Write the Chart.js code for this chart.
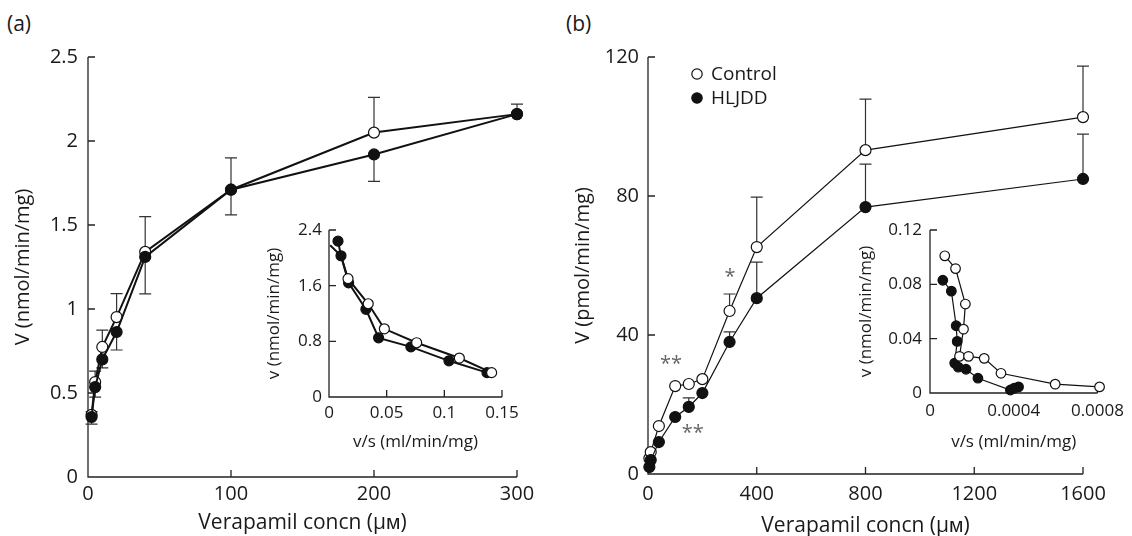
<!DOCTYPE html>
<html>
<head>
<meta charset="utf-8">
<script src="https://cdn.jsdelivr.net/npm/chart.js@4/dist/chart.umd.min.js"></script>
<style>
body { margin: 0; background: #fff; width: 1132px; height: 536px; overflow: hidden; position: relative; }
canvas { position: absolute; }
.lab { position: absolute; font: 21px 'Open Sans'; line-height: 21px; color: #1a1a1a; }
</style>
</head>
<body>
<div class="lab" style="left:7px;top:13px">(a)</div>
<div class="lab" style="left:566px;top:13px">(b)</div>
<canvas id="mainA" width="560" height="536" style="left:0;top:0"></canvas>
<canvas id="insetA" width="300" height="260" style="left:240px;top:200px"></canvas>
<canvas id="mainB" width="572" height="540" style="left:560px;top:0"></canvas>
<canvas id="insetB" width="292" height="260" style="left:840px;top:200px"></canvas>
<script>
// (a) main: V vs verapamil concn (uM)
var concA = [2.5, 5, 10, 20, 40, 100, 200, 300];
var ctrlA = [0.37, 0.565, 0.774, 0.952, 1.34, 1.71, 2.05, 2.16];
var hljddA = [0.357, 0.535, 0.70, 0.863, 1.31, 1.71, 1.92, 2.16];
var ctrlErrA = [0.02, 0.065, 0.10, 0.14, 0.21, 0.19, 0.21, 0.06];
var hljddErrA = [-0.042, -0.06, -0.05, -0.107, -0.22, -0.15, -0.16, 0];
var xTicksA = [0, 100, 200, 300];
var yTicksA = [0, 0.5, 1, 1.5, 2, 2.5];

// (a) inset: Eadie-Hofstee
var ctrlVsA = [0.001, 0.0104, 0.0165, 0.034, 0.048, 0.076, 0.113, 0.141];
var ctrlVA = [2.18, 2.03, 1.70, 1.34, 0.98, 0.78, 0.56, 0.35];
var hljddVsA = [0.0078, 0.0104, 0.017, 0.032, 0.043, 0.071, 0.104, 0.137];
var hljddVA = [2.24, 2.03, 1.64, 1.26, 0.85, 0.72, 0.52, 0.35];
var xTicksIA = [0, 0.05, 0.1, 0.15];
var yTicksIA = [0, 0.8, 1.6, 2.4];

// (b) main
var concB = [5, 10, 40, 100, 150, 200, 300, 400, 800, 1600];
var ctrlB = [4.5, 6.3, 13.8, 25.3, 25.9, 27.3, 46.9, 65.3, 93.2, 102.7];
var hljddB = [2.0, 4.0, 9.2, 16.4, 19.3, 23.3, 38.0, 50.6, 76.8, 84.9];
var ctrlErrB = [0, 0, 0, 0, 0, 0, 4.9, 14.4, 14.7, 14.7];
var hljddErrB = [0, 0, 0, 0, 2.6, 0, 2.9, 10.4, 12.4, 12.9];
var xTicksB = [0, 400, 800, 1200, 1600];
var yTicksB = [0, 40, 80, 120];
var sigMarks = [
	{ x: 85, y: 31.5, text: '**' },
	{ x: 165, y: 11.8, text: '**' },
	{ x: 302, y: 56.5, text: '*' }
];

// (b) inset
var ctrlVsB = [0.0000706, 0.000122, 0.000169, 0.00016, 0.000141, 0.000184, 0.000259, 0.000339, 0.000598, 0.00081];
var ctrlVB = [0.101, 0.0916, 0.0655, 0.047, 0.027, 0.027, 0.0255, 0.0145, 0.0065, 0.0045];
var hljddVsB = [0.0000612, 0.000102, 0.000125, 0.00013, 0.000118, 0.000135, 0.000172, 0.000229, 0.000384, 0.000402, 0.000423];
var hljddVB = [0.083, 0.075, 0.0495, 0.038, 0.022, 0.019, 0.0175, 0.0109, 0.0022, 0.0035, 0.0045];
var xTicksIB = [0, 0.0004, 0.0008];
var yTicksIB = [0, 0.04, 0.08, 0.12];

Chart.defaults.font.family = "'Open Sans', sans-serif";
Chart.defaults.color = '#1a1a1a';

function pts(xs, ys) {
	return xs.map(function (x, i) { return { x: x, y: ys[i] }; });
}

// spines plus inward tick marks
var axesPlugin = {
	id: 'axesIn',
	beforeDatasetsDraw: function (chart) {
		var ctx = chart.ctx, a = chart.chartArea, x = chart.scales.x, y = chart.scales.y;
		ctx.save();
		ctx.strokeStyle = '#222';
		ctx.lineWidth = 1.3;
		ctx.beginPath();
		ctx.moveTo(a.left, a.top);
		ctx.lineTo(a.left, a.bottom);
		ctx.lineTo(a.right, a.bottom);
		y.ticks.forEach(function (t) {
			if (t.value === 0) return;
			var p = y.getPixelForValue(t.value);
			ctx.moveTo(a.left, p);
			ctx.lineTo(a.left + 7, p);
		});
		x.ticks.forEach(function (t) {
			if (t.value === 0) return;
			var p = x.getPixelForValue(t.value);
			ctx.moveTo(p, a.bottom);
			ctx.lineTo(p, a.bottom - 7);
		});
		ctx.stroke();
		ctx.restore();
	}
};

// one-sided error bars (ds.errors, signed)
var errPlugin = {
	id: 'errBars',
	beforeDatasetsDraw: function (chart) {
		var ctx = chart.ctx, y = chart.scales.y;
		ctx.save();
		ctx.strokeStyle = '#333';
		ctx.lineWidth = 1.2;
		chart.data.datasets.forEach(function (ds, i) {
			if (!ds.errors) return;
			var meta = chart.getDatasetMeta(i);
			meta.data.forEach(function (el, j) {
				var e = ds.errors[j];
				if (!e) return;
				var top = y.getPixelForValue(ds.data[j].y + e);
				ctx.beginPath();
				ctx.moveTo(el.x, el.y);
				ctx.lineTo(el.x, top);
				ctx.moveTo(el.x - 6, top);
				ctx.lineTo(el.x + 6, top);
				ctx.stroke();
			});
		});
		ctx.restore();
	}
};

var sigPlugin = {
	id: 'sigMarks',
	afterDatasetsDraw: function (chart) {
		var marks = chart.options.plugins.sigMarks.marks;
		if (!marks) return;
		var ctx = chart.ctx;
		ctx.save();
		ctx.fillStyle = '#666';
		ctx.font = "20px 'Open Sans'";
		ctx.textAlign = 'center';
		ctx.textBaseline = 'middle';
		marks.forEach(function (m) {
			ctx.fillText(m.text, chart.scales.x.getPixelForValue(m.x), chart.scales.y.getPixelForValue(m.y));
		});
		ctx.restore();
	}
};

var legendPlugin = {
	id: 'dotLegend',
	afterDraw: function (chart) {
		var o = chart.options.plugins.dotLegend;
		if (!o.show) return;
		var ctx = chart.ctx;
		ctx.save();
		ctx.font = "19px 'Open Sans'";
		ctx.textBaseline = 'middle';
		chart.data.datasets.slice().reverse().forEach(function (ds, k) {
			var cy = o.y + k * 24;
			ctx.beginPath();
			ctx.arc(o.x, cy, 5.2, 0, Math.PI * 2);
			ctx.fillStyle = ds.pointBackgroundColor;
			ctx.fill();
			ctx.lineWidth = 1.2;
			ctx.strokeStyle = '#111';
			ctx.stroke();
			ctx.fillStyle = '#1a1a1a';
			ctx.fillText(ds.label, o.x + 14, cy + 1);
		});
		ctx.restore();
	}
};

function series(label, data, filled, r, lw, errors) {
	return {
		label: label,
		data: data,
		showLine: true,
		borderColor: '#111',
		borderWidth: lw,
		pointRadius: r,
		pointBorderWidth: 1.2,
		pointBorderColor: '#111',
		pointBackgroundColor: filled ? '#111' : '#fff',
		pointHoverRadius: r,
		errors: errors,
		clip: false
	};
}

function axis(o) {
	return {
		type: 'linear',
		min: o.min,
		max: o.max,
		grid: { display: false, drawTicks: false },
		border: { display: false },
		afterBuildTicks: function (s) { s.ticks = o.ticks.map(function (v) { return { value: v }; }); },
		afterFit: function (s) { if (o.w) s.width = o.w; if (o.h) s.height = o.h; },
		ticks: {
			padding: o.pad,
			autoSkip: false,
			maxRotation: 0,
			font: { size: o.tickSize },
			color: '#1a1a1a',
			callback: function (v) { return String(v); }
		},
		title: {
			display: true,
			text: o.title,
			color: '#1a1a1a',
			font: { size: o.titleSize },
			padding: o.titlePad
		}
	};
}

function makeChart(id, datasets, xs, ys, padding, extra) {
	extra = extra || {};
	return new Chart(document.getElementById(id), {
		type: 'scatter',
		data: { datasets: datasets },
		options: {
			responsive: false,
			animation: false,
			devicePixelRatio: 1,
			layout: { padding: padding },
			scales: { x: xs, y: ys },
			plugins: {
				legend: { display: false },
				tooltip: { enabled: false },
				sigMarks: { marks: extra.marks },
				dotLegend: { show: !!extra.legend, x: 137, y: 74 }
			}
		},
		plugins: [axesPlugin, errPlugin, sigPlugin, legendPlugin]
	});
}

var micro = 'Verapamil concn (\u03bc\u1d0d)';

// (a) main: filled drawn on top
makeChart('mainA', [
	series('HLJDD', pts(concA, hljddA), true, 5.5, 2, hljddErrA),
	series('Control', pts(concA, ctrlA), false, 5.5, 2, ctrlErrA)
],
axis({ min: 0, max: 300, ticks: xTicksA, h: 59, pad: 5, tickSize: 20, title: micro, titleSize: 21, titlePad: { top: 0, bottom: 0 } }),
axis({ min: 0, max: 2.5, ticks: yTicksA, w: 88, pad: 10, tickSize: 20, title: 'V (nmol/min/mg)', titleSize: 20, titlePad: { top: 11, bottom: 0 } }),
{ top: 57, right: 43, left: 0, bottom: 0 });

// (a) inset: open drawn on top
var ctrlInsetA = series('Control', pts(ctrlVsA, ctrlVA), false, 5, 2);
ctrlInsetA.pointRadius = [0, 0, 5, 5, 5, 5, 5, 5];
ctrlInsetA.pointBorderWidth = [0, 0, 1.2, 1.2, 1.2, 1.2, 1.2, 1.2];
makeChart('insetA', [
	ctrlInsetA,
	series('HLJDD', pts(hljddVsA, hljddVA), true, 5, 2)
],
axis({ min: 0, max: 0.15, ticks: xTicksIA, h: 63, pad: 6, tickSize: 17, title: 'v/s (ml/min/mg)', titleSize: 17, titlePad: { top: 0, bottom: 8 } }),
axis({ min: 0, max: 2.4, ticks: yTicksIA, w: 89, pad: 7, tickSize: 17, title: 'v (nmol/min/mg)', titleSize: 17, titlePad: { top: 24, bottom: 0 } }),
{ top: 30, right: 38, left: 0, bottom: 0 });

// (b) main
makeChart('mainB', [
	series('HLJDD', pts(concB, hljddB), true, 5.5, 1.2, hljddErrB),
	series('Control', pts(concB, ctrlB), false, 5.5, 1.2, ctrlErrB)
],
axis({ min: 0, max: 1600, ticks: xTicksB, h: 66, pad: 8, tickSize: 20, title: micro, titleSize: 21, titlePad: { top: 0, bottom: 1 } }),
axis({ min: 0, max: 120, ticks: yTicksB, w: 88, pad: 9, tickSize: 20, title: 'V (pmol/min/mg)', titleSize: 20, titlePad: { top: 11, bottom: 0 } }),
{ top: 57, right: 49, left: 0, bottom: 0 },
{ marks: sigMarks, legend: true });

// (b) inset
makeChart('insetB', [
	series('Control', pts(ctrlVsB, ctrlVB), false, 4.8, 1.2),
	series('HLJDD', pts(hljddVsB, hljddVB), true, 4.8, 1.2)
],
axis({ min: 0, max: 0.0008, ticks: xTicksIB, h: 67, pad: 8, tickSize: 17, title: 'v/s (ml/min/mg)', titleSize: 17, titlePad: { top: 0, bottom: 8 } }),
axis({ min: 0, max: 0.12, ticks: yTicksIB, w: 90, pad: 8, tickSize: 17, title: 'v (nmol/min/mg)', titleSize: 17, titlePad: { top: 16, bottom: 0 } }),
{ top: 30, right: 32, left: 0, bottom: 0 });
</script>
</body>
</html>
